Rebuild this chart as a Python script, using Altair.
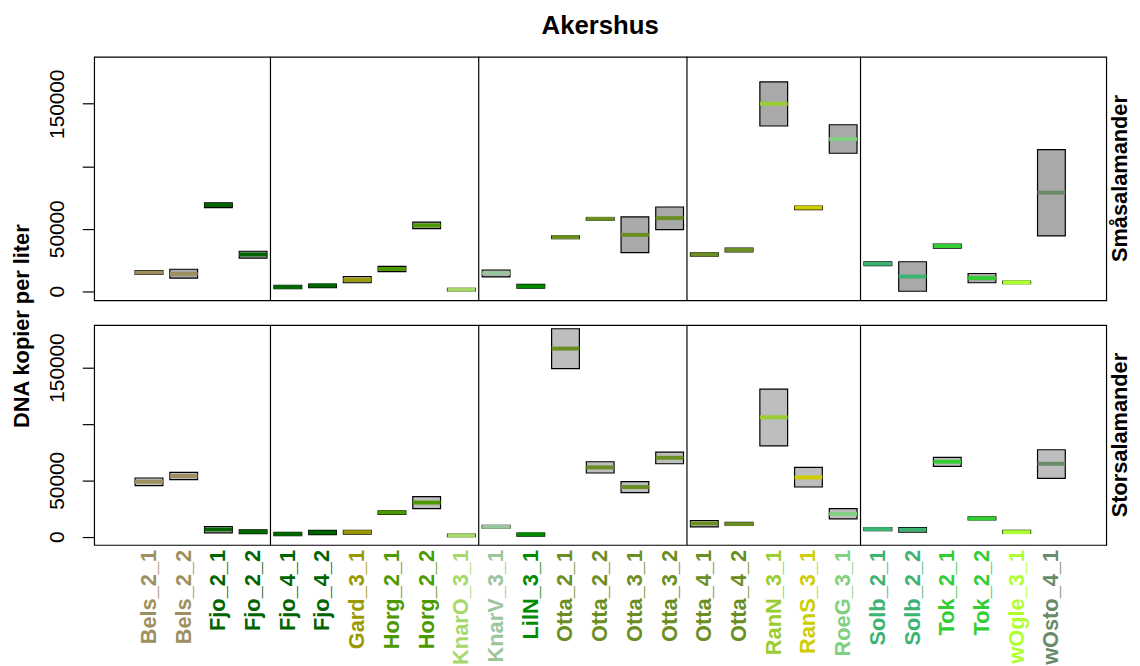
import altair as alt
import pandas as pd

# ---------------- data ----------------
samples = ["Bels_2_1", "Bels_2_2", "Fjo_2_1", "Fjo_2_2", "Fjo_4_1", "Fjo_4_2",
           "Gard_3_1", "Horg_2_1", "Horg_2_2", "KnarO_3_1", "KnarV_3_1", "LilN_3_1",
           "Otta_2_1", "Otta_2_2", "Otta_3_1", "Otta_3_2", "Otta_4_1", "Otta_4_2",
           "RanN_3_1", "RanS_3_1", "RoeG_3_1", "Solb_2_1", "Solb_2_2", "Tok_2_1",
           "Tok_2_2", "wOgle_3_1", "wOsto_4_1"]

label_colors = ["#9D8F5E", "#9D8F5E", "#006400", "#006400", "#006400", "#006400",
                "#9A9A00", "#4C9900", "#4C9900", "#A6D96A", "#9BC59B", "#008B00",
                "#6B8E23", "#6B8E23", "#6B8E23", "#6B8E23", "#6B8E23", "#6B8E23",
                "#9ACD32", "#CDCD00", "#80D080", "#3CB371", "#3CB371", "#32CD32",
                "#32CD32", "#ADFF2F", "#698B69"]

# Småsalamander (top panel): lower hinge, median, upper hinge
small_lo = [13400, 10500, 66900, 26500, 2100, 2900, 6800, 15700, 50100, 300,
            11500, 2400, 42000, 56900, 30900, 49300, 28100, 31500, 132200, 65300,
            110400, 20500, 0, 34400, 6800, 6000, 44300]
small_med = [14950, 13900, 69000, 29400, 3400, 4500, 9200, 17800, 52700, 1300,
             14400, 3900, 43300, 58000, 45100, 58500, 29400, 33000, 150000, 66900,
             121700, 22000, 11800, 36200, 10500, 7100, 78900]
small_hi = [16500, 17600, 70800, 32000, 4700, 5800, 11800, 19900, 55300, 2400,
            17000, 5500, 44300, 59000, 59500, 67400, 30700, 34600, 167500, 68200,
            133200, 23600, 23600, 37800, 14200, 8100, 113300]

# Storsalamander (bottom panel)
stor_lo = [45300, 50600, 3500, 2700, 900, 1800, 2400, 19700, 25000, 0,
           7700, 600, 149100, 56500, 39100, 64700, 8800, 10000, 80600, 44100,
           15900, 5300, 4100, 62400, 15000, 2900, 51800]
stor_med = [48800, 53800, 6500, 4400, 2400, 3800, 4100, 21500, 30300, 1200,
            8800, 2100, 166800, 61500, 44100, 70000, 11800, 11200, 105900, 52600,
            20300, 6800, 6200, 66500, 16200, 4100, 64700]
stor_hi = [52100, 57100, 9100, 6200, 3800, 5600, 5600, 22900, 35600, 2400,
           10000, 3200, 184400, 66500, 48800, 75000, 14400, 12700, 130900, 61500,
           25000, 8200, 8200, 70300, 17600, 5600, 77100]

separators = [4.5, 10.5, 16.5, 21.5]
y_ticks = [0, 50000, 100000, 150000]

# ---------------- layout ----------------
W, H1, H2 = 1022, 246, 222
FONT = "Liberation Sans"
N = len(samples)
XDOM = [0.5 - 0.04 * N, N + 0.5 + 0.04 * N]
YDOM = [-7300, 187600]


def make_df(lo, med, hi):
    pos = list(range(1, N + 1))
    return pd.DataFrame({
        "sample": samples, "color": label_colors, "pos": pos,
        "left": [p - 0.4 for p in pos], "right": [p + 0.4 for p in pos],
        "lo": lo, "med": med, "hi": hi,
    })


def xs():
    return alt.Scale(domain=XDOM, nice=False, zero=False)


def ys():
    return alt.Scale(domain=YDOM, nice=False, zero=False)


def yaxis():
    return alt.Axis(values=y_ticks, format="d",
                    labelExpr="datum.value == 100000 ? '' : datum.label",
                    labelAngle=270, labelAlign="center", labelBaseline="alphabetic",
                    labelFont=FONT, labelFontSize=21, labelColor="black",
                    tickColor="black", tickSize=12, tickWidth=1.2, labelPadding=19,
                    labelOverlap=False, domain=False, grid=False, title=None)


def panel(df, fill, H, side_label, extra):
    base = alt.Chart(df)
    boxes = base.mark_rect(fill=fill, stroke="black", strokeWidth=1.2).encode(
        x=alt.X("left:Q", scale=xs(), axis=None),
        x2="right:Q",
        y=alt.Y("lo:Q", scale=ys(), axis=yaxis()),
        y2="hi:Q",
    )
    meds = base.mark_rule(strokeWidth=4).encode(
        x=alt.X("left:Q", scale=xs(), axis=None),
        x2="right:Q",
        y=alt.Y("med:Q", scale=ys(), axis=yaxis()),
        color=alt.Color("color:N", scale=None),
    )
    seps = alt.Chart(pd.DataFrame({"sep": separators})).mark_rule(
        color="black", strokeWidth=1.2).encode(
        x=alt.X("sep:Q", scale=xs(), axis=None))
    side = alt.Chart(pd.DataFrame({"t": [side_label]})).mark_text(
        angle=270, align="center", baseline="alphabetic", font=FONT,
        fontSize=22, fontWeight="bold", color="black").encode(
        text="t:N", x=alt.value(W + 21), y=alt.value(H / 2))
    return alt.layer(boxes, meds, seps, side, *extra).properties(width=W, height=H)


df_small = make_df(small_lo, small_med, small_hi)
df_stor = make_df(stor_lo, stor_med, stor_hi)

title = alt.Chart(pd.DataFrame({"t": ["Akershus"]})).mark_text(
    align="center", baseline="alphabetic", font=FONT, fontSize=26,
    fontWeight="bold", color="black").encode(
    text="t:N", x=alt.value(W / 2), y=alt.value(-23))

ytitle = alt.Chart(pd.DataFrame({"t": ["DNA kopier per liter"]})).mark_text(
    angle=270, align="center", baseline="alphabetic", font=FONT, fontSize=22,
    fontWeight="bold", color="black").encode(
    text="t:N", x=alt.value(-66), y=alt.value(1))

xlabels = alt.Chart(df_stor).mark_text(
    angle=270, align="right", baseline="middle", font=FONT, fontSize=22,
    fontWeight="bold").encode(
    x=alt.X("pos:Q", scale=xs(), axis=None),
    y=alt.value(H2 + 5),
    text="sample:N",
    color=alt.Color("color:N", scale=None),
)

top = panel(df_small, "#A9A9A9", H1, "Småsalamander", [title])
bottom = panel(df_stor, "#BEBEBE", H2, "Storsalamander", [ytitle, xlabels])

chart = alt.vconcat(top, bottom, spacing=25, bounds="flush").properties(
    padding={"left": 2, "top": 1, "right": 0, "bottom": 0},
    background="white",
).configure(font=FONT).configure_view(stroke="black", strokeWidth=1.2)

chart.save("out.html", embed_options={"renderer": "svg", "actions": False})
